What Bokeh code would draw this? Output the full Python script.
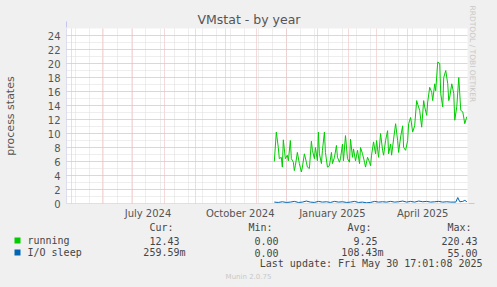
from datetime import datetime, timedelta

from bokeh.plotting import figure
from bokeh.models import (Range1d, FixedTicker, Arrow, NormalHead, ColumnDataSource, Title)
from bokeh.core.properties import value
from bokeh.embed import file_html
from bokeh.resources import INLINE

# ---------------- data ----------------
TITLE = "VMstat - by year"
Y_LABEL = "process states"
RANGE_START = "2024-04-25 17:01"
RANGE_END = "2025-05-30 17:01"
Y_MIN, Y_MAX = 0, 25

running_dates = [
    "2024-11-19", "2024-11-21", "2024-11-23", "2024-11-24", "2024-11-26", "2024-11-27",
    "2024-11-28", "2024-11-30", "2024-12-02", "2024-12-03", "2024-12-05", "2024-12-06",
    "2024-12-08", "2024-12-09", "2024-12-10", "2024-12-12", "2024-12-14", "2024-12-16",
    "2024-12-17", "2024-12-19", "2024-12-21", "2024-12-22", "2024-12-24", "2024-12-26",
    "2024-12-27", "2024-12-29", "2024-12-30", "2025-01-01", "2025-01-02", "2025-01-03",
    "2025-01-05", "2025-01-06", "2025-01-08", "2025-01-09", "2025-01-11", "2025-01-13",
    "2025-01-15", "2025-01-16", "2025-01-18", "2025-01-20", "2025-01-21", "2025-01-23",
    "2025-01-24", "2025-01-26", "2025-01-27", "2025-01-29", "2025-01-31", "2025-02-02",
    "2025-02-03", "2025-02-05", "2025-02-06", "2025-02-08", "2025-02-10", "2025-02-12",
    "2025-02-13", "2025-02-15", "2025-02-17", "2025-02-18", "2025-02-20", "2025-02-22",
    "2025-02-23", "2025-02-24", "2025-02-26", "2025-02-28", "2025-03-01", "2025-03-03",
    "2025-03-05", "2025-03-07", "2025-03-08", "2025-03-10", "2025-03-12", "2025-03-13",
    "2025-03-15", "2025-03-16", "2025-03-18", "2025-03-20", "2025-03-22", "2025-03-23",
    "2025-03-25", "2025-03-27", "2025-03-28", "2025-03-30", "2025-04-01", "2025-04-02",
    "2025-04-04", "2025-04-06", "2025-04-08", "2025-04-10", "2025-04-11", "2025-04-13",
    "2025-04-15", "2025-04-17", "2025-04-18", "2025-04-20", "2025-04-21", "2025-04-23",
    "2025-04-25", "2025-04-26", "2025-04-28", "2025-04-29", "2025-05-01", "2025-05-03",
    "2025-05-04", "2025-05-06", "2025-05-07", "2025-05-09", "2025-05-11", "2025-05-12",
    "2025-05-13", "2025-05-15", "2025-05-17", "2025-05-18", "2025-05-20", "2025-05-22",
    "2025-05-24", "2025-05-26", "2025-05-28", "2025-05-30",
]
running_values = [
    6.0, 10.2, 8.0, 6.4, 6.6, 5.2, 9.1, 6.4, 6.9, 6.1, 9.0, 6.4,
    5.9, 4.7, 5.4, 7.3, 5.7, 4.5, 5.2, 7.1, 5.9, 5.2, 5.0, 8.9,
    7.6, 6.4, 8.0, 6.1, 10.2, 7.1, 5.7, 7.6, 10.2, 7.3, 5.2, 5.4,
    7.3, 5.7, 6.6, 8.3, 6.6, 5.9, 6.4, 8.5, 6.1, 9.7, 6.4, 5.9,
    9.2, 6.6, 7.8, 6.1, 7.6, 5.7, 8.0, 7.1, 5.9, 5.2, 6.6, 5.9,
    5.4, 6.9, 8.8, 7.1, 9.0, 6.6, 10.0, 7.6, 6.9, 9.0, 10.4, 7.1,
    8.5, 6.9, 9.2, 11.4, 9.0, 7.3, 9.5, 11.1, 8.0, 7.6, 9.0, 11.4,
    12.3, 10.2, 11.1, 14.7, 14.2, 13.3, 10.9, 14.7, 13.8, 12.6, 14.5, 16.6,
    15.9, 14.7, 17.1, 16.1, 20.2, 20.0, 15.7, 13.8, 18.0, 19.0, 17.1, 14.7,
    15.2, 17.1, 15.7, 11.9, 13.8, 18.0, 13.3, 13.1, 11.4, 12.4,
]

iosleep_dates = [
    "2024-11-19", "2024-11-23", "2024-11-27", "2024-12-01", "2024-12-05", "2024-12-09",
    "2024-12-13", "2024-12-17", "2024-12-21", "2024-12-25", "2024-12-29", "2025-01-02",
    "2025-01-06", "2025-01-10", "2025-01-14", "2025-01-18", "2025-01-22", "2025-01-26",
    "2025-01-30", "2025-02-03", "2025-02-07", "2025-02-11", "2025-02-15", "2025-02-19",
    "2025-02-23", "2025-02-27", "2025-03-03", "2025-03-07", "2025-03-11", "2025-03-15",
    "2025-03-19", "2025-03-23", "2025-03-27", "2025-03-31", "2025-04-04", "2025-04-08",
    "2025-04-12", "2025-04-16", "2025-04-20", "2025-04-24", "2025-04-28", "2025-05-02",
    "2025-05-06", "2025-05-10", "2025-05-14", "2025-05-19", "2025-05-21", "2025-05-23",
    "2025-05-26", "2025-05-28", "2025-05-30",
]
iosleep_values = [
    0.20, 0.15, 0.25, 0.15, 0.20, 0.30,
    0.15, 0.20, 0.35, 0.20, 0.15, 0.30,
    0.20, 0.25, 0.15, 0.30, 0.20, 0.25,
    0.15, 0.20, 0.30, 0.15, 0.20, 0.10,
    0.15, 0.30, 0.20, 0.25, 0.20, 0.30,
    0.20, 0.25, 0.35, 0.20, 0.30, 0.20,
    0.35, 0.25, 0.30, 0.20, 0.25, 0.30,
    0.20, 0.25, 0.20, 0.20, 0.85, 0.25,
    0.30, 0.45, 0.26,
]

tick_dates = ["2024-07-16", "2024-10-16", "2025-01-16", "2025-04-16"]
tick_labels = ["July 2024", "October 2024", "January 2025", "April 2025"]
month_starts = ["2024-05-01", "2024-06-01", "2024-07-01", "2024-08-01", "2024-09-01",
                "2024-10-01", "2024-11-01", "2024-12-01", "2025-01-01", "2025-02-01",
                "2025-03-01", "2025-04-01", "2025-05-01"]
minor_grid_start = "2024-05-05"

y_major = [0, 2, 4, 6, 8, 10, 12, 14, 16, 18, 20, 22, 24]
y_minor = list(range(0, 26))

legend_names = ["running", "I/O sleep"]
legend_colors = ["#00CC00", "#0066B3"]
cur_vals = ["12.43", "259.59m"]
min_vals = ["0.00", "0.00"]
avg_vals = ["9.25", "108.43m"]
max_vals = ["220.43", "55.00"]
col_headers = ["Cur:", "Min:", "Avg:", "Max:"]
LAST_UPDATE = "Last update: Fri May 30 17:01:08 2025"
MUNIN = "Munin 2.0.75"
WATERMARK = "RRDTOOL / TOBI OETIKER"

# ---------------- helpers ----------------
EPOCH = datetime(1970, 1, 1)

def d(s):
    return datetime.fromisoformat(s)

def ms(s):
    return int((d(s) - EPOCH).total_seconds() * 1000)

W, H = 497, 287
FL, FR, FT, FB = 66, 467, 28, 203   # frame edges in canvas px
H1 = 220                            # height of the chart part
H2 = H - H1                         # height of the legend part

def sx(cx):
    return cx - FL

def sy(cy):
    return FB - cy

TEXT = "#555555"
LEG = "#454545"
BG = "#F0F0F0"
MGRID = "#ECB4B4"
NGRID = "#DCDCDC"

p = figure(
    frame_width=FR - FL, frame_height=FB - FT,
    min_border_left=FL, min_border_right=W - FR,
    min_border_top=FT, min_border_bottom=H1 - FB,
    x_axis_type="datetime",
    x_range=Range1d(d(RANGE_START), d(RANGE_END)),
    y_range=Range1d(Y_MIN, Y_MAX),
    output_backend="svg", toolbar_location=None,
)
p.border_fill_color = BG
p.background_fill_color = "white"
p.outline_line_color = None

# title (centred on the canvas, not the frame)
p.title.text = TITLE
p.title.align = "left"
p.title.offset = 131
p.title.standoff = 3
p.title.text_font = "DejaVu Sans"
p.title.text_font_size = "12.5px"
p.title.text_font_style = "normal"
p.title.text_color = TEXT

# watermark on the right (an invisible spacer keeps it near the edge)
p.add_layout(Title(text=".", standoff=7, text_font="DejaVu Sans", text_font_size="7.5px",
                   text_alpha=0.0), "right")
p.add_layout(Title(text=WATERMARK, align="left", offset=-23, standoff=0,
                   text_font="DejaVu Sans", text_font_size="7.5px",
                   text_font_style="normal", text_color="#C8C8C8"), "right")

# grids
minor_x = []
t = d(minor_grid_start)
while t < d(RANGE_END):
    minor_x.append(int((t - EPOCH).total_seconds() * 1000))
    t += timedelta(days=14)

xg = p.xgrid[0]
xg.ticker = FixedTicker(ticks=[ms(s) for s in month_starts], minor_ticks=minor_x)
xg.grid_line_color = MGRID
xg.grid_line_dash = "1 1"
xg.minor_grid_line_color = NGRID
xg.minor_grid_line_dash = "1 1"

yg = p.ygrid[0]
yg.ticker = FixedTicker(ticks=y_major, minor_ticks=y_minor)
yg.grid_line_color = MGRID
yg.grid_line_dash = "1 1"
yg.minor_grid_line_color = NGRID
yg.minor_grid_line_dash = "1 1"

# axes
xa = p.xaxis[0]
xa.ticker = FixedTicker(ticks=[ms(s) for s in tick_dates], minor_ticks=[])
xa.major_label_overrides = {ms(s): lab for s, lab in zip(tick_dates, tick_labels)}
ya = p.yaxis[0]
ya.ticker = FixedTicker(ticks=y_major, minor_ticks=[])
for ax in (xa, ya):
    ax.axis_line_color = None
    ax.major_tick_line_color = None
    ax.minor_tick_line_color = None
    ax.major_tick_out = 0
    ax.major_tick_in = 0
    ax.major_label_text_font = "DejaVu Sans"
    ax.major_label_text_font_size = "10px"
    ax.major_label_text_color = TEXT
xa.major_label_standoff = 4
ya.major_label_standoff = 6
ya.axis_label = Y_LABEL
ya.axis_label_text_font = "DejaVu Sans"
ya.axis_label_text_font_size = "11px"
ya.axis_label_text_font_style = "normal"
ya.axis_label_text_color = TEXT
ya.axis_label_standoff = 28

# axis arrows
AX = "#C4C4EE"
p.add_layout(Arrow(x_start=0, y_start=-2, x_end=0, y_end=sy(21),
                   start_units="screen", end_units="screen",
                   line_color=AX, line_width=1,
                   end=NormalHead(size=6, fill_color=AX, line_color=AX)))
p.add_layout(Arrow(x_start=-2, y_start=0, x_end=sx(474), y_end=0,
                   start_units="screen", end_units="screen",
                   line_color=AX, line_width=1,
                   end=NormalHead(size=6, fill_color=AX, line_color=AX)))

# series
src_run = ColumnDataSource(dict(x=[d(s) for s in running_dates], y=running_values))
src_io = ColumnDataSource(dict(x=[d(s) for s in iosleep_dates], y=iosleep_values))
p.line("x", "y", source=src_run, line_color=legend_colors[0], line_width=1)
p.line("x", "y", source=src_io, line_color=legend_colors[1], line_width=1)

# ---------------- legend panel (separate root, 1 data unit = 1 px) ----------------
q = figure(
    frame_width=W, frame_height=H2,
    x_range=Range1d(0, W), y_range=Range1d(H2, 0),
    x_axis_location=None, y_axis_location=None,
    min_border_left=0, min_border_right=0, min_border_top=0, min_border_bottom=0,
    output_backend="svg", toolbar_location=None,
)
q.grid.visible = False
q.outline_line_color = None
q.border_fill_color = BG
q.background_fill_color = BG

def txt(cx, cy, text, size="10px", font="DejaVu Sans Mono", color=LEG, align="left"):
    q.text(x=[cx], y=[cy - H1], text=[text], text_font=value(font),
           text_font_size=value(size), text_color=color, text_align=align,
           text_baseline="middle")

col_ends = [179, 278, 377, 477]
for h, ce in zip(col_headers, col_ends):
    txt(ce - 6, 226, h, align="right")

rows_y = [239, 251]
CH = 6
for i, (name, col) in enumerate(zip(legend_names, legend_colors)):
    cy = rows_y[i]
    q.quad(left=[14], right=[20], top=[cy - 3 - H1], bottom=[cy + 3 - H1],
           fill_color=col, line_color=None)
    txt(27, cy, name)
    for vals, ce in zip((cur_vals, min_vals, avg_vals, max_vals), col_ends):
        v = vals[i]
        end = ce + (CH if v.endswith("m") else 0)
        txt(end, cy, v, align="right")

txt(482, 261.5, LAST_UPDATE, align="right")
txt(248, 275, MUNIN, size="7px", font="DejaVu Sans", color="#C8C8C8", align="center")

html = file_html([p, q], INLINE)
html = html.replace("<head>", "<head><style>body{background:%s;}</style>" % BG, 1)
open("out.html", "w").write(html)
